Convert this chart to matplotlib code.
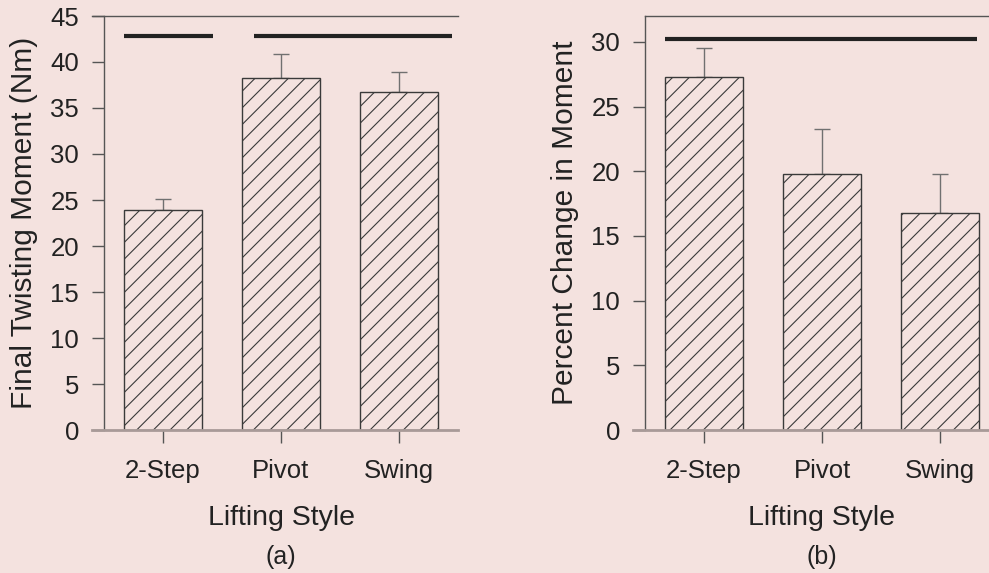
import matplotlib.pyplot as plt
import matplotlib
matplotlib.rcParams['font.family'] = ['Liberation Sans', 'DejaVu Sans']
matplotlib.rcParams['hatch.linewidth'] = 0.8

# data
styles = ['2-Step', 'Pivot', 'Swing']
twist_mean = [23.9, 38.3, 36.7]
twist_err = [1.2, 2.6, 2.2]
pct_mean = [27.3, 19.8, 16.8]
pct_err = [2.2, 3.5, 3.0]

bg = '#f4e2df'
W, H = 989, 573

fig = plt.figure(figsize=(W / 100, H / 100), dpi=100, facecolor=bg)

def panel(rect, means, errs, ylim, yticks, ylabel, tag, sig, full_top):
    ax = fig.add_axes(rect, facecolor=bg)
    x = range(len(styles))
    ax.bar(x, means, width=0.66, color=bg, edgecolor='#3a3a3a', linewidth=1.0,
           hatch='//', zorder=2)
    ax.errorbar(x, means, yerr=[[0] * len(errs), errs], fmt='none',
                ecolor='#707070', elinewidth=1.0, capsize=5.5, capthick=1.0, zorder=1)
    # significance bars
    for x0, x1, yv in sig:
        ax.plot([x0, x1], [yv, yv], color='#222222', lw=3, solid_capstyle='butt',
                zorder=3)
    ax.set_xlim(-0.5, 2.5)
    ax.set_ylim(*ylim)
    ax.set_yticks(yticks)
    ax.set_xticks(list(x))
    ax.set_xticklabels(styles)
    for s in ('right', 'bottom', 'top'):
        ax.spines[s].set_visible(False)
    ax.spines['left'].set_color('#555555')
    ax.spines['left'].set_linewidth(1.0)
    ax.tick_params(axis='y', direction='out', length=9, width=1.0, color='#555555',
                   labelsize=18.5, pad=9, labelcolor='#222222')
    ax.tick_params(axis='x', direction='out', length=9, width=1.0, color='#555555',
                   labelsize=18.5, pad=12, labelcolor='#222222')
    # x axis line runs out under the y ticks
    ax.plot([-0.6, 2.5], [0, 0], color='#a89a98', lw=2, clip_on=False, zorder=4)
    # top frame line
    x_start = -0.6 if full_top else -0.5
    ax.plot([x_start, 2.5], [ylim[1], ylim[1]], color='#555555', lw=1.0,
            clip_on=False, zorder=4)
    ax.set_ylabel(ylabel, fontsize=21.5, color='#222222', labelpad=9)
    ax.set_xlabel('Lifting Style', fontsize=20.5, color='#222222', labelpad=16)
    ax.text(0.5, -0.307, tag, transform=ax.transAxes, ha='center', va='center',
            fontsize=18, color='#222222')
    return ax

# axes rectangles in pixel terms
bottom = (H - 430) / H
panel([104 / W, bottom, 354 / W, 414 / H], twist_mean, twist_err, (0, 45),
      range(0, 46, 5), 'Final Twisting Moment (Nm)', '(a)',
      [(-0.33, 0.42, 42.8), (0.77, 2.45, 42.8)], True)
panel([645 / W, bottom, 354 / W, 414 / H], pct_mean, pct_err, (0, 32),
      range(0, 31, 5), 'Percent Change in Moment', '(b)',
      [(-0.33, 2.31, 30.26)], False)

fig.savefig('out.png', dpi=100, facecolor=bg)
